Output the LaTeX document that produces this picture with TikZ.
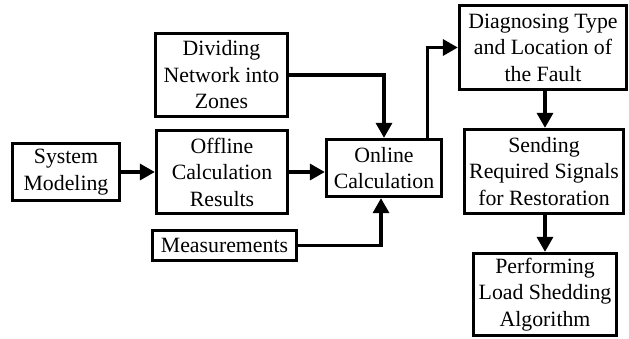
\documentclass[tikz,border=0pt]{standalone}
\usepackage{fontspec}
\setmainfont{Liberation Serif}
\usetikzlibrary{arrows.meta}
\begin{document}
\begin{tikzpicture}[x=1pt,y=-1pt,
  box/.style={draw,line width=3.3pt,rectangle,align=center,inner sep=0pt,
    font=\fontsize{21.8}{26.5}\selectfont},
  conn/.style={line width=3.3pt,-{Triangle[length=15pt,width=16pt]}}]
\useasboundingbox (0,0) rectangle (629,338);
\node[box,minimum width=107pt,minimum height=57pt] (sys) at (66,172) {System\\Modeling};
\node[box,minimum width=132pt,minimum height=83pt] (div) at (221.5,75) {Dividing\\Network into\\Zones};
\node[box,minimum width=131pt,minimum height=83pt] (off) at (222,172) {Offline\\Calculation\\Results};
\node[box,minimum width=144pt,minimum height=30pt] (meas) at (224.5,245.5) {Measurements};
\node[box,minimum width=115pt,minimum height=57pt] (onl) at (384,168) {Online\\Calculation};
\node[box,minimum width=167pt,minimum height=84pt] (diag) at (543,47.5) {Diagnosing Type\\and Location of\\the Fault};
\node[box,minimum width=159pt,minimum height=84pt] (send) at (544,171.5) {Sending\\Required Signals\\for Restoration};
\node[box,minimum width=143pt,minimum height=82pt] (perf) at (545,294.5) {Performing\\Load Shedding\\Algorithm};
\coordinate (up) at ([xshift=-16pt]onl.north east);
\draw[conn] (sys) -- (off);
\draw[conn] (off.east) -- (off.east -| onl.west);
\draw[conn] (div) -| (onl);
\draw[conn] (meas) -| ([xshift=-3pt]onl.south);
\draw[conn] (up) |- (diag);
\draw[conn] ([xshift=2pt]diag.south) -- ([xshift=2pt]diag.south |- send.north);
\draw[conn] ([xshift=1pt]send.south) -- ([xshift=1pt]send.south |- perf.north);
\end{tikzpicture}
\end{document}
